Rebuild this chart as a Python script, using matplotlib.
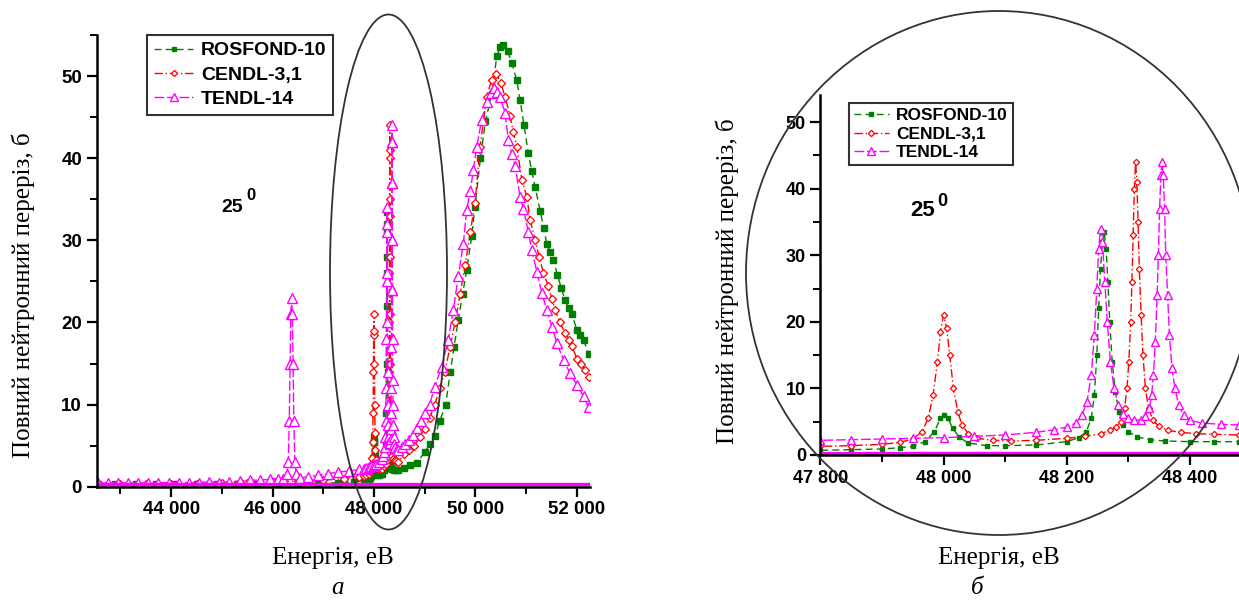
import numpy as np
import matplotlib.pyplot as plt
from matplotlib.patches import Ellipse
from matplotlib.ticker import MultipleLocator, FuncFormatter

# ROSFOND-10 (зелений)
ros_e = [42550, 42900, 43300, 43700, 44100, 44500, 44900, 45300, 45700, 46100,
         46500, 46900, 47300, 47600, 47800, 47850, 47900, 47930, 47950, 47970,
         47985, 47995, 48000, 48007, 48015, 48025, 48040, 48070, 48100, 48150,
         48200, 48220, 48232, 48240, 48245, 48249, 48252, 48255, 48258, 48261,
         48264, 48267, 48270, 48274, 48279, 48285, 48292, 48300, 48315, 48335,
         48360, 48400, 48440, 48480, 48600, 48720, 48846, 49000, 49100, 49200,
         49300, 49415, 49507, 49580, 49664, 49750, 49830, 49929, 49994, 50100,
         50200, 50324, 50423, 50490, 50553, 50640, 50719, 50818, 50883, 50960,
         51047, 51110, 51180, 51279, 51350, 51410, 51480, 51542, 51620, 51694,
         51772, 51840, 51905, 52004, 52070, 52135, 52233]
ros_v = [0.3, 0.3, 0.3, 0.3, 0.3, 0.3, 0.3, 0.3, 0.35, 0.35,
         0.4, 0.4, 0.5, 0.6, 0.7, 0.8, 0.9, 1.1, 1.3, 2.0,
         3.5, 5.5, 6.0, 5.5, 4.0, 2.7, 1.8, 1.4, 1.4, 1.5,
         2.0, 2.6, 3.5, 5.5, 9.0, 15.0, 22.0, 28.0, 32.0, 33.5,
         31.0, 26.0, 20.0, 14.0, 9.5, 6.5, 4.5, 3.5, 2.7, 2.3,
         2.1, 2.0, 2.0, 2.0, 2.3, 2.6, 2.9, 4.2, 5.2, 6.2,
         8.0, 10.0, 14.0, 17.0, 20.3, 23.5, 26.4, 30.5, 34.1, 40.0,
         44.5, 47.8, 52.4, 53.5, 53.8, 53.0, 51.6, 49.5, 47.1, 44.0,
         40.6, 38.5, 36.5, 33.6, 31.5, 29.6, 28.6, 27.6, 25.8, 24.2,
         22.7, 21.8, 21.0, 19.1, 18.5, 17.9, 16.2]

# CENDL-3,1 (червоний)
cen_e = [42550, 43000, 43500, 44000, 44500, 45000, 45500, 46000, 46500, 47000,
         47400, 47700, 47800, 47850, 47900, 47930, 47950, 47965, 47975, 47983,
         47990, 47995, 48000, 48005, 48010, 48016, 48023, 48030, 48040, 48055,
         48080, 48110, 48150, 48200, 48230, 48255, 48270, 48280, 48288, 48294,
         48298, 48301, 48304, 48306, 48308, 48310, 48312, 48314, 48316, 48318,
         48321, 48324, 48328, 48333, 48340, 48350, 48365, 48385, 48410, 48440,
         48480, 48600, 48700, 48800, 48900, 49000, 49100, 49200, 49300, 49400,
         49500, 49600, 49700, 49800, 49900, 49994, 50093, 50160, 50225, 50320,
         50411, 50500, 50587, 50686, 50750, 50818, 50917, 51016, 51081, 51180,
         51260, 51344, 51443, 51510, 51575, 51670, 51772, 51840, 51905, 52004,
         52090, 52168, 52233]
cen_v = [0.3, 0.3, 0.3, 0.3, 0.35, 0.4, 0.5, 0.6, 0.7, 0.8,
         1.0, 1.2, 1.3, 1.4, 1.6, 1.9, 2.4, 3.5, 5.5, 9.0,
         14.0, 18.5, 21.0, 19.0, 15.0, 10.0, 6.5, 4.5, 3.2, 2.5,
         2.2, 2.1, 2.2, 2.5, 2.8, 3.2, 3.7, 4.2, 5.0, 7.0,
         10.0, 14.0, 20.0, 26.0, 33.0, 40.0, 44.0, 41.0, 35.0, 28.0,
         21.0, 15.0, 10.0, 7.0, 5.2, 4.3, 3.7, 3.4, 3.2, 3.1,
         3.0, 4.0, 4.5, 5.0, 6.0, 7.0, 8.4, 10.0, 12.0, 14.0,
         17.0, 20.0, 23.5, 27.0, 31.0, 34.5, 41.4, 44.5, 47.5, 49.5,
         50.3, 49.2, 47.5, 45.1, 43.2, 41.4, 37.4, 35.3, 32.5, 30.0,
         28.0, 26.0, 24.4, 22.9, 21.5, 20.0, 18.7, 17.9, 17.1, 15.6,
         14.9, 14.2, 13.4]

# TENDL-14 (пурпуровий)
ten_e = [42550, 42750, 42950, 43150, 43350, 43550, 43750, 43950, 44150, 44350,
         44550, 44750, 44950, 45150, 45350, 45550, 45750, 45950, 46100, 46200,
         46280, 46310, 46330, 46345, 46360, 46375, 46390, 46405, 46420, 46440,
         46470, 46550, 46700, 46900, 47100, 47300, 47500, 47700, 47800, 47850,
         47900, 47950, 48000, 48050, 48100, 48150, 48180, 48200, 48215, 48225,
         48233, 48240, 48245, 48249, 48252, 48255, 48258, 48262, 48266, 48271,
         48277, 48284, 48292, 48300, 48310, 48320, 48328, 48334, 48338, 48341,
         48344, 48347, 48349, 48351, 48353, 48355, 48357, 48359, 48361, 48364,
         48367, 48371, 48376, 48382, 48390, 48400, 48420, 48450, 48480, 48550,
         48620, 48700, 48780, 48850, 48930, 49000, 49100, 49200, 49336, 49467,
         49565, 49664, 49763, 49830, 49900, 49961, 50028, 50126, 50225, 50300,
         50370, 50430, 50488, 50587, 50652, 50720, 50785, 50883, 50949, 51047,
         51114, 51213, 51312, 51410, 51509, 51609, 51740, 51872, 52004, 52135,
         52233]
ten_v = [0.4, 0.5, 0.4, 0.5, 0.5, 0.4, 0.5, 0.5, 0.5, 0.5,
         0.5, 0.6, 0.5, 0.6, 0.7, 0.8, 0.8, 0.9, 1.0, 1.0,
         1.5, 3.0, 8.0, 15.0, 21.0, 23.0, 21.0, 15.0, 8.0, 3.0,
         1.5, 1.1, 1.2, 1.4, 1.6, 1.8, 1.9, 2.1, 2.2, 2.3,
         2.4, 2.5, 2.6, 2.8, 3.0, 3.4, 3.8, 4.2, 4.8, 6.0,
         8.0, 12.0, 18.0, 25.0, 31.0, 34.0, 32.0, 26.0, 20.0, 14.0,
         10.0, 7.5, 6.2, 5.5, 5.2, 5.3, 5.8, 7.0, 9.0, 12.0,
         17.0, 24.0, 30.0, 37.0, 42.0, 44.0, 42.0, 37.0, 30.0, 24.0,
         18.0, 13.0, 10.0, 7.5, 6.0, 5.2, 4.8, 4.6, 4.5, 4.8,
         5.2, 5.7, 6.3, 7.2, 8.0, 9.0, 10.0, 12.2, 14.6, 17.9,
         21.5, 25.6, 29.6, 33.7, 36.0, 38.6, 41.4, 44.7, 46.9, 48.0,
         48.5, 48.1, 47.5, 45.5, 42.2, 40.5, 39.0, 35.3, 33.8, 31.0,
         28.8, 26.2, 23.6, 21.5, 19.5, 17.5, 15.4, 13.8, 12.4, 11.0,
         9.7]

# нижня пурпурова лінія
floor_e = [42500, 52300]
floor_v = [0.35, 0.35]

labels = ["ROSFOND-10", "CENDL-3,1", "TENDL-14"]

fig = plt.figure(figsize=(12.39, 6.0), dpi=100)

def fmt_e(x, pos):
    return f"{int(round(x)):,}".replace(",", " ")

def draw(ax, tick_fs, k):
    ax.plot(ros_e, ros_v, color="#008000", ls=(0, (5, 3)), lw=1.0,
            marker="s", ms=3.5 * k, mfc="#008000", mec="#008000", label=labels[0])
    ax.plot(cen_e, cen_v, color="#ff0000", ls=(0, (6, 2, 1, 2)), lw=1.0,
            marker="D", ms=3.2 * k, mfc="white", mec="#ff0000", mew=0.9, label=labels[1])
    ax.plot(ten_e, ten_v, color="#ff00ff", ls=(0, (7, 2)), lw=1.0,
            marker="^", ms=5.5 * k, mfc="white", mec="#ff00ff", mew=1.0, label=labels[2])
    ax.plot(floor_e, floor_v, color="#ff00ff", lw=2.4)
    for s in ["top", "right"]:
        ax.spines[s].set_visible(False)
    for s in ["left", "bottom"]:
        ax.spines[s].set_linewidth(1.8)
    ax.yaxis.set_major_locator(MultipleLocator(10))
    ax.yaxis.set_minor_locator(MultipleLocator(5))
    ax.tick_params(which="major", direction="out", length=7, width=1.6)
    ax.tick_params(which="minor", direction="out", length=5, width=1.4)
    ax.xaxis.set_major_formatter(FuncFormatter(fmt_e))
    for lab in ax.get_xticklabels() + ax.get_yticklabels():
        lab.set_fontfamily("Liberation Sans")
        lab.set_fontweight("bold")
        lab.set_fontsize(tick_fs)

# панель а
ax1 = fig.add_axes([0.0780, 0.1888, 0.3981, 0.7528])
ax1.set_xlim(42530, 52260)
ax1.set_ylim(0, 55)
ax1.xaxis.set_major_locator(MultipleLocator(2000))
ax1.xaxis.set_minor_locator(MultipleLocator(1000))
draw(ax1, 13.5, 1.2)
leg1 = ax1.legend(loc="upper left", bbox_to_anchor=(0.103, 1.0), borderaxespad=0,
                  prop={"family": "Liberation Sans", "weight": "bold", "size": 14},
                  frameon=True, fancybox=False, handlelength=2.0, handletextpad=0.4,
                  labelspacing=0.35, borderpad=0.35, markerscale=0.8)
leg1.get_frame().set_edgecolor("black")
leg1.get_frame().set_linewidth(1.5)
fig.text(232 / 1239, 1 - 208 / 600, "25", fontsize=14, fontweight="bold",
         family="Liberation Sans", ha="center", va="center")
fig.text(251 / 1239, 1 - 196 / 600, "0", fontsize=12, fontweight="bold",
         family="Liberation Sans", ha="center", va="center")

# панель б
ax2 = fig.add_axes([0.6622, 0.2417, 0.3378, 0.5993])
ax2.set_xlim(47800, 48480)
ax2.set_ylim(0, 54)
ax2.xaxis.set_major_locator(MultipleLocator(200))
ax2.xaxis.set_minor_locator(MultipleLocator(100))
draw(ax2, 13, 1.0)
leg2 = ax2.legend(loc="upper left", bbox_to_anchor=(0.068, 0.98), borderaxespad=0,
                  prop={"family": "Liberation Sans", "weight": "bold", "size": 12.5},
                  frameon=True, fancybox=False, handlelength=2.0, handletextpad=0.4,
                  labelspacing=0.2, borderpad=0.3)
leg2.get_frame().set_edgecolor("black")
leg2.get_frame().set_linewidth(1.5)
fig.text(923 / 1239, 1 - 211 / 600, "25", fontsize=16, fontweight="bold",
         family="Liberation Sans", ha="center", va="center")
fig.text(942 / 1239, 1 - 201 / 600, "0", fontsize=13, fontweight="bold",
         family="Liberation Sans", ha="center", va="center")

# підписи осей
serif = "Liberation Serif"
fig.text(333 / 1239, 1 - 558 / 600, "Енергія, еВ", family=serif, fontsize=18,
         ha="center", va="center")
fig.text(999 / 1239, 1 - 558 / 600, "Енергія, еВ", family=serif, fontsize=18,
         ha="center", va="center")
fig.text(23 / 1239, 1 - 295 / 600, "Повний нейтронний переріз, б", family=serif,
         fontsize=18, rotation=90, ha="center", va="center")
fig.text(727 / 1239, 1 - 281 / 600, "Повний нейтронний переріз, б", family=serif,
         fontsize=18, rotation=90, ha="center", va="center")
fig.text(338 / 1239, 1 - 588 / 600, "а", family=serif, style="italic",
         fontsize=18, ha="center", va="center")
fig.text(977 / 1239, 1 - 588 / 600, "б", family=serif, style="italic",
         fontsize=18, ha="center", va="center")

# еліпс і коло
fig.add_artist(Ellipse((388.5 / 1239, 1 - 272 / 600), 117 / 1239, 515 / 600,
                       transform=fig.transFigure, fill=False, ec="#333333", lw=1.3))
fig.add_artist(Ellipse((999 / 1239, 1 - 273 / 600), 506 / 1239, 524 / 600,
                       transform=fig.transFigure, fill=False, ec="#333333", lw=1.3))

fig.savefig("out.png", dpi=100)
